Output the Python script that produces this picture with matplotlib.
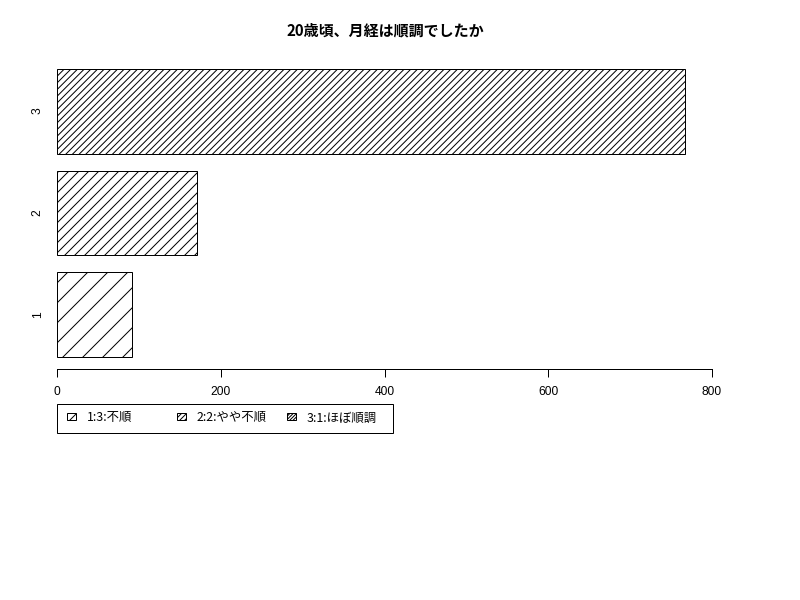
import matplotlib

matplotlib.use("Agg")
import matplotlib.pyplot as plt
from matplotlib.patches import Rectangle

# data
categories = ["1", "2", "3"]
counts = [92, 171, 767]
hatches = ["//", "////", "//////"]
legend_labels = ["1:3:不順", "2:2:やや不順", "3:1:ほぼ順調"]
x_ticks = [0, 200, 400, 600, 800]
title = "20歳頃、月経は順調でしたか"

W, H, DPI = 800, 600, 120
CJK = ["Noto Sans CJK JP", "DejaVu Sans"]

plt.rcParams["font.family"] = ["Liberation Sans", "DejaVu Sans"]
plt.rcParams["hatch.linewidth"] = 0.6
plt.rcParams["hatch.color"] = "black"


def fx(px):
    return px / W


def fy(py):
    return 1 - py / H


fig = plt.figure(figsize=(W / DPI, H / DPI), dpi=DPI)
ax = fig.add_axes([fx(57), fy(369), fx(712) - fx(57), fy(57) - fy(369)])

# R barplot layout: width 1, space 0.2
centers = [0.7 + 1.2 * i for i in range(len(categories))]
for c, v, h in zip(centers, counts, hatches):
    ax.barh(c, v, height=1.0, left=0, color="white", edgecolor="black",
            linewidth=0.6, hatch=h)

ax.set_xlim(0, 800)
ax.set_ylim(0.2 - 0.04 * 3.4, 3.6 + 0.04 * 3.4)
for side in ("top", "right", "left"):
    ax.spines[side].set_visible(False)
ax.spines["bottom"].set_bounds(0, 800)
ax.spines["bottom"].set_linewidth(0.6)

ax.set_xticks(x_ticks)
ax.set_xticklabels([str(t) for t in x_ticks], fontsize=7.2)
ax.tick_params(axis="x", length=4.8, width=0.6, pad=5.5)
ax.set_yticks(centers)
ax.set_yticklabels(categories, fontsize=7.2, rotation=90, va="center")
ax.tick_params(axis="y", length=0, pad=8.0)

fig.text(fx(385), fy(30), title, ha="center", va="center", fontsize=9,
         fontweight="bold", family=CJK)

# legend drawn as in R: equal column widths, frame box
fig.add_artist(Rectangle((fx(57), fy(433)), fx(393) - fx(57), fy(404) - fy(433),
                         transform=fig.transFigure, facecolor="none",
                         edgecolor="black", linewidth=0.6))
for i, (lab, h) in enumerate(zip(legend_labels, hatches)):
    x0 = 67 + 110 * i
    fig.add_artist(Rectangle((fx(x0), fy(420)), fx(9), 7 / H,
                             transform=fig.transFigure, facecolor="white",
                             edgecolor="black", linewidth=0.6, hatch=h * 2))
    fig.text(fx(x0 + 20), fy(418), lab, ha="left", va="center",
             fontsize=7.4, family=CJK)

fig.savefig("out.png", dpi=DPI)
